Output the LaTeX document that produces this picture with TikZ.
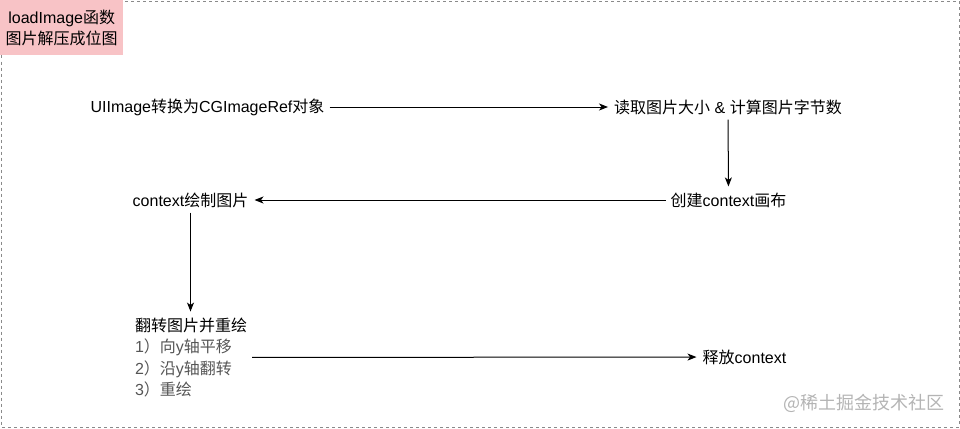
\documentclass[tikz,border=0pt]{standalone}
\usepackage{fontspec}
\setmainfont{Liberation Sans}
\newfontfamily\cjk{Noto Sans CJK SC}
\usetikzlibrary{arrows.meta}
\definecolor{pinkbox}{HTML}{F8C3C6}
\definecolor{framegray}{HTML}{8A8A8A}
\definecolor{listgray}{HTML}{555555}
\definecolor{wmgray}{HTML}{B4B4B4}
\tikzset{
  lbl/.style={inner sep=3pt, font=\fontsize{16}{21.5}\selectfont, text=black},
  arr/.style={draw=black, line width=1pt, -{Stealth[length=9pt,width=7pt,inset=2.5pt]}, shorten >=3pt, shorten <=2pt},
}
\begin{document}
\begin{tikzpicture}[x=1pt,y=-1pt]
\useasboundingbox (0,0) rectangle (960,428);
\draw[framegray, line width=1pt, dash pattern=on 3pt off 3pt] (1.5,1.5) rectangle (959,427);
\node[fill=pinkbox, minimum width=123pt, minimum height=55pt, inner sep=0pt, anchor=north west, align=center, font=\fontsize{16}{21}\selectfont] (title) at (0,0) {loadImage{\cjk 函数}\\{\cjk 图片解压成位图}};

\node[lbl] (n1) at (207.5,107) {UIImage{\cjk 转换为}CGImageRef{\cjk 对象}};
\node[lbl] (n2) at (728,107) {{\cjk 读取图片大小} \& {\cjk 计算图片字节数}};
\node[lbl] (n3) at (728.5,200) {{\cjk 创建}context{\cjk 画布}};
\node[lbl] (n4) at (190.5,200) {context{\cjk 绘制图片}};
\node[lbl, align=left] (n5) at (191,357.5) {{\cjk 翻转图片并重绘}\\
  \textcolor{listgray}{1{\cjk ）向}y{\cjk 轴平移}}\\
  \textcolor{listgray}{2{\cjk ）沿}y{\cjk 轴翻转}}\\
  \textcolor{listgray}{3{\cjk ）重绘}}};
\node[lbl] (n6) at (744.5,357) {{\cjk 释放}context};
\node[inner sep=0pt, text=wmgray, font=\fontsize{18}{18}\selectfont] (wm) at (864,403) {{\cjk @稀土掘金技术社区}};

\draw[arr] (n1) -- (n2);
\draw[arr] (n2) -- (n3);
\draw[arr] (n3) -- (n4);
\draw[arr] (n4.south) -- (n4.south |- n5.north);
\draw[arr] (n5) -- (n6);
\end{tikzpicture}
\end{document}
